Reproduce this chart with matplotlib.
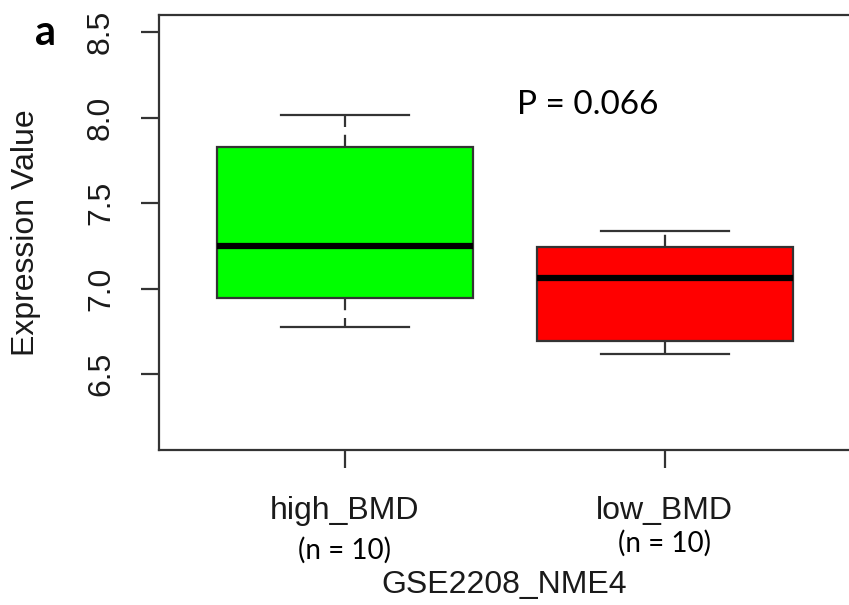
import matplotlib
matplotlib.use("Agg")
import matplotlib.pyplot as plt
import matplotlib.transforms as mtransforms

# ---- data ----
groups = ["high_BMD", "low_BMD"]
counts = ["(n = 10)", "(n = 10)"]
whisker_low = [6.774, 6.617]
q1 = [6.947, 6.693]
medians = [7.250, 7.064]
q3 = [7.830, 7.245]
whisker_high = [8.017, 7.338]
box_colors = ["#00FF00", "#FF0000"]
yticks = [6.5, 7.0, 7.5, 8.0, 8.5]
p_text = "P = 0.066"
xlabel = "GSE2208_NME4"
ylabel = "Expression Value"
panel = "a"

W, H = 849, 605
fig = plt.figure(figsize=(W / 100, H / 100), dpi=100)
fig.patch.set_facecolor("white")

px_per_unit = 320.0
left_px, top_px, bottom_px = 159.0, 15.0, 450.0
xlim = (0.42, 2.58)
ax_w = (xlim[1] - xlim[0]) * px_per_unit
ax = fig.add_axes([left_px / W, (H - bottom_px) / H, ax_w / W, (bottom_px - top_px) / H])

positions = list(range(1, len(groups) + 1))
stats = []
for i, g in enumerate(groups):
    stats.append(dict(label=g, whislo=whisker_low[i], q1=q1[i], med=medians[i],
                      q3=q3[i], whishi=whisker_high[i], fliers=[]))

edge = "#333333"
bp = ax.bxp(stats, positions=positions, widths=0.8, patch_artist=True,
            showfliers=False, capwidths=0.4,
            boxprops=dict(edgecolor=edge, linewidth=1.6),
            whiskerprops=dict(color=edge, linewidth=1.6, linestyle=(0, (5.5, 3.5))),
            capprops=dict(color=edge, linewidth=1.6),
            medianprops=dict(color="black", linewidth=4.5, solid_capstyle="butt"),
            manage_ticks=False)
for patch, c in zip(bp["boxes"], box_colors):
    patch.set_facecolor(c)

ax.set_xlim(*xlim)
ax.set_ylim(6.056, 8.6)

for side in ["left", "bottom", "top"]:
    ax.spines[side].set_color(edge)
    ax.spines[side].set_linewidth(1.6)
ax.spines["right"].set_visible(False)

arial = "Liberation Sans"
txt_color = "#1a1a1a"
ax.set_yticks(yticks)
ax.set_yticklabels([f"{v:.1f}" for v in yticks], rotation=90, va="center",
                   fontsize=23, family=arial, color=txt_color)
ax.set_xticks(positions)
ax.set_xticklabels(groups, fontsize=23, family=arial, color=txt_color)
ax.tick_params(axis="y", length=13, width=1.6, color=edge, pad=18)
ax.tick_params(axis="x", length=13, width=1.6, color=edge, pad=20)

ax.set_xlabel(xlabel, fontsize=23, family=arial, color=txt_color)
ax.xaxis.set_label_coords(0.5, (bottom_px - 585) / (bottom_px - top_px))
ax.xaxis.label.set_va("center")
ax.set_ylabel(ylabel, fontsize=23, family=arial, color=txt_color)
ax.yaxis.set_label_coords((26 - left_px) / ax_w, 0.5)
ax.yaxis.label.set_va("center")

calibri_like = ["Lato", "DejaVu Sans"]
trans = mtransforms.blended_transform_factory(ax.transData, fig.transFigure)
n_y = [(H - 550) / H, (H - 543) / H]
for x, t, yy in zip(positions, counts, n_y):
    ax.text(x, yy, t, transform=trans, ha="center", va="center",
            fontsize=20, family=calibri_like, color="black")

ax.text(1.76, 8.076, p_text, ha="center", va="center", fontsize=24,
        family=calibri_like, color="black")

fig.text(46 / W, (H - 33) / H, panel, ha="center", va="center", fontsize=30,
         fontweight="bold", family=calibri_like, color="black")

fig.savefig("out.png", dpi=100)
